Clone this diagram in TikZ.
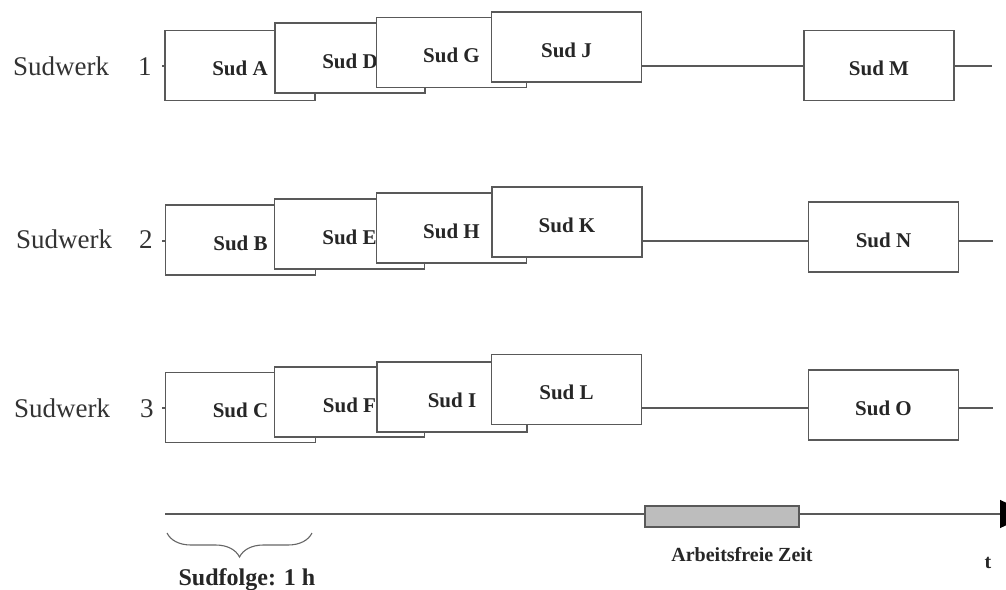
\documentclass[tikz,border=0pt]{standalone}
\usepackage{fontspec}
\setmainfont{Liberation Serif}
\usetikzlibrary{arrows.meta,decorations.pathreplacing}
\begin{document}
\begin{tikzpicture}[x=1pt,y=-1pt,
  line/.style={draw=black!65,line width=1.2pt},
  sud/.style={draw=black!65,fill=white,line width=1.2pt,
    minimum width=150pt,minimum height=70pt,inner sep=0pt,
    text height=20pt,text depth=0pt,
    font=\bfseries\fontsize{21}{24}\selectfont,text=black!85},
  werk/.style={anchor=base west,inner sep=0pt,
    font=\fontsize{27}{30}\selectfont,text=black!80},
  note/.style={anchor=base,inner sep=0pt,text=black!85}]
\clip (0,0) rectangle (1006,589);
\fill[white] (0,0) rectangle (1006,589);

% row labels
\node[werk] (w1) at (13,75)  {Sudwerk\hspace{29pt}1};
\node[werk] (w2) at (16,248) {Sudwerk\hspace{27pt}2};
\node[werk] (w3) at (14,417) {Sudwerk\hspace{30pt}3};

% time lines of the three brewhouses
\coordinate (r1s) at (162,66);  \coordinate (r1e) at (992,66);
\coordinate (r2s) at (162,241); \coordinate (r2e) at (993,241);
\coordinate (r3s) at (162,408); \coordinate (r3e) at (993,408);
\draw[line] (r1s) -- (r1e);
\draw[line] (r2s) -- (r2e);
\draw[line] (r3s) -- (r3e);

% brews, Sudwerk 1
\node[sud] (A) at (240,65.5)  {Sud A};
\node[sud] (D) at (350,58)    {Sud D};
\node[sud] (G) at (451.5,52.5){Sud G};
\node[sud] (J) at (566.5,47)  {Sud J};
\node[sud] (M) at (879,65.5)  {Sud M};

% brews, Sudwerk 2
\node[sud] (B) at (240.5,240) {Sud B};
\node[sud] (E) at (349.5,234) {Sud E};
\node[sud] (H) at (451.5,228) {Sud H};
\node[sud] (K) at (567,222)   {Sud K};
\node[sud] (N) at (883.5,237) {Sud N};

% brews, Sudwerk 3
\node[sud] (C) at (240.5,407.5){Sud C};
\node[sud] (F) at (349.5,402)  {Sud F};
\node[sud] (I) at (452,397)    {Sud I};
\node[sud] (L) at (566.5,389.5){Sud L};
\node[sud] (O) at (883.5,405)  {Sud O};

% time axis
\coordinate (ax0) at (165,514);
\coordinate (ax1) at (1030,514);
\draw[line,-{Triangle[length=30pt,width=28pt,color=black]}] (ax0) -- (ax1);
\node[draw=black!65,fill=black!26,line width=1.2pt,inner sep=0pt,
  minimum width=154pt,minimum height=21pt] (frei) at (722,516.5) {};
\node[note,font=\bfseries\fontsize{20}{22}\selectfont] (freiL) at (742,561) {Arbeitsfreie Zeit};
\node[note,font=\bfseries\fontsize{20}{22}\selectfont] (t) at (988,568) {t};

% brew interval
\coordinate (b0) at (167,533);
\coordinate (b1) at (312,533);
\draw[draw=black!60,line width=1.1pt,decorate,
  decoration={brace,mirror,amplitude=24pt}] (b0) -- (b1);
\node[note,font=\bfseries\fontsize{24}{26}\selectfont] (folge) at (247,585) {Sudfolge: 1 h};
\end{tikzpicture}
\end{document}
